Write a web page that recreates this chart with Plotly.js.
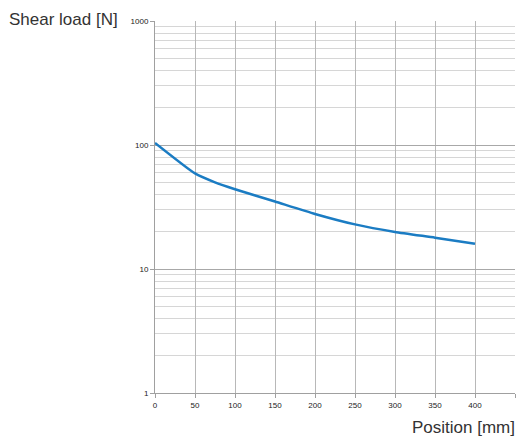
<!DOCTYPE html>
<html>
<head>
<meta charset="utf-8">
<script src="https://cdn.plot.ly/plotly-3.0.1.min.js"></script>
<style>html,body{margin:0;padding:0;background:#fff;}#chart{width:522px;height:436px;}</style>
</head>
<body>
<div id="chart"></div>
<script>
const positionMm = [0, 50, 75, 100, 150, 200, 250, 300, 350, 400];
const shearLoadN = [104, 59, 50, 44, 35, 27.8, 22.9, 19.9, 17.9, 16.0];
const xTickVals = [0, 50, 100, 150, 200, 250, 300, 350, 400, 450];
const yTickVals = [1, 10, 100, 1000];
const yTickText = ["1", "10", "100", "1000"];
const yTitle = "Shear load [N]";
const xTitle = "Position [mm]";

const minorVals = [];
[1, 10, 100].forEach(function (d) { for (let k = 2; k <= 9; k++) minorVals.push(k * d); });

const trace = {
  x: positionMm,
  y: shearLoadN,
  type: "scatter",
  mode: "lines",
  line: {color: "#1b7cc3", width: 2.5, shape: "spline", smoothing: 0.5},
  hoverinfo: "skip"
};

const layout = {
  width: 522, height: 436,
  margin: {l: 155, r: 7, t: 21, b: 43},
  paper_bgcolor: "#ffffff",
  plot_bgcolor: "#ffffff",
  showlegend: false,
  font: {family: "Liberation Sans, Arial, sans-serif", color: "#222"},
  xaxis: {
    range: [0, 450],
    tickvals: xTickVals,
    ticktext: xTickVals.map(String),
    showgrid: true, gridcolor: "#b8b8b8", gridwidth: 1,
    zeroline: false,
    showline: true, linecolor: "#a0a0a0", linewidth: 1,
    ticks: "outside", ticklen: 4, tickcolor: "#a0a0a0",
    tickfont: {size: 8, color: "#222"}
  },
  yaxis: {
    type: "log",
    range: [0, 3],
    tickvals: yTickVals,
    ticktext: yTickText,
    showgrid: true, gridcolor: "#a8a8a8", gridwidth: 1,
    zeroline: false,
    showline: true, linecolor: "#a0a0a0", linewidth: 1,
    ticks: "outside", ticklen: 4, tickcolor: "#a0a0a0",
    tickfont: {size: 8, color: "#222"},
    minor: {tickmode: "array", tickvals: minorVals, showgrid: true, gridcolor: "#d6d6d6", gridwidth: 1, ticks: ""}
  },
  annotations: [
    {text: yTitle, xref: "paper", yref: "paper", x: -0.41, y: 1.003,
     xanchor: "left", yanchor: "middle", showarrow: false,
     font: {size: 17, color: "#333", family: "Liberation Sans, Arial, sans-serif"}},
    {text: xTitle, xref: "paper", yref: "paper", x: 1.006, y: -0.092,
     xanchor: "right", yanchor: "middle", showarrow: false,
     font: {size: 17, color: "#333", family: "Liberation Sans, Arial, sans-serif"}}
  ]
};

Plotly.newPlot("chart", [trace], layout, {staticPlot: true, displayModeBar: false});
</script>
</body>
</html>
